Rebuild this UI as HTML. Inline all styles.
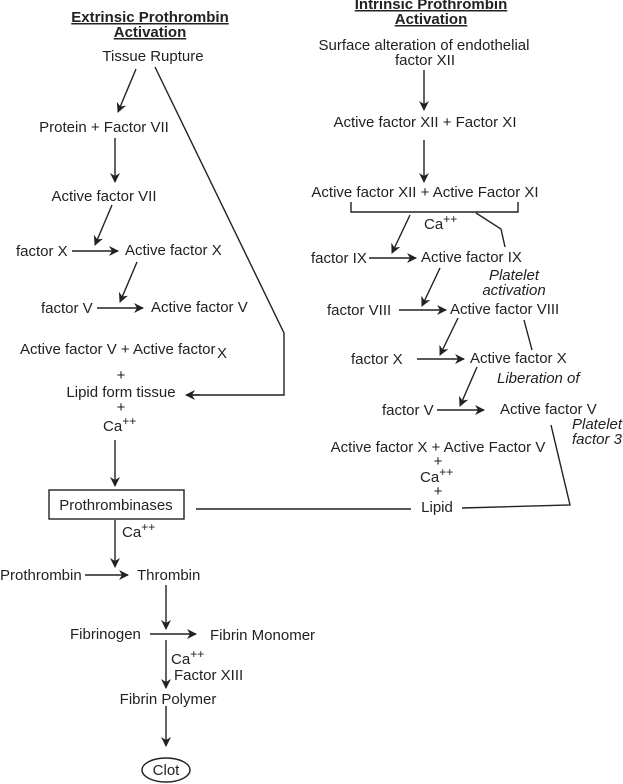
<!DOCTYPE html>
<html><head><meta charset="utf-8"><style>
html,body{margin:0;padding:0;background:#fff;}
svg{display:block;}
text{font-family:"Liberation Sans",Arial,sans-serif;font-size:15px;fill:#222;}
.b{font-weight:bold;text-decoration:underline;}
.i{font-style:italic;}
line,polyline,path{stroke:#222;stroke-width:1.4;fill:none;}
</style></head><body>
<svg width="623" height="784" viewBox="0 0 623 784" xmlns="http://www.w3.org/2000/svg">
<defs>
<marker id="a" viewBox="0 0 10 10" refX="9" refY="5" markerWidth="10" markerHeight="10" orient="auto-start-reverse" markerUnits="userSpaceOnUse">
<path d="M0,0 L10,5 L0,10 L3,5 Z" style="fill:#222;stroke:none"/>
</marker>
</defs>
<!-- Left column -->
<text x="150" y="22" text-anchor="middle" class="b">Extrinsic Prothrombin</text>
<text x="150" y="37" text-anchor="middle" class="b">Activation</text>
<text x="153" y="61" text-anchor="middle">Tissue Rupture</text>
<line x1="136" y1="69" x2="118" y2="112" marker-end="url(#a)"/>
<text x="104" y="132" text-anchor="middle">Protein + Factor VII</text>
<line x1="115" y1="138" x2="115" y2="182" marker-end="url(#a)"/>
<text x="104" y="201" text-anchor="middle">Active factor VII</text>
<line x1="112" y1="205" x2="95" y2="245" marker-end="url(#a)"/>
<text x="16" y="256">factor X</text>
<line x1="72" y1="251" x2="118" y2="251" marker-end="url(#a)"/>
<text x="125" y="255">Active factor X</text>
<line x1="137" y1="262" x2="120" y2="302" marker-end="url(#a)"/>
<text x="41" y="313">factor V</text>
<line x1="97" y1="308" x2="143" y2="308" marker-end="url(#a)"/>
<text x="151" y="312">Active factor V</text>
<text x="20" y="354">Active factor V + Active factor</text>
<text x="217" y="358">X</text>
<text x="121" y="380" text-anchor="middle">+</text>
<text x="121" y="397" text-anchor="middle">Lipid form tissue</text>
<polyline points="155,67 284,333 284,395 188,395"/>
<line x1="200" y1="395" x2="186" y2="395" marker-end="url(#a)"/>
<text x="121" y="412" text-anchor="middle">+</text>
<text x="103" y="431">Ca<tspan dy="-6" font-size="12">++</tspan></text>
<line x1="115" y1="440" x2="115" y2="486" marker-end="url(#a)"/>
<rect x="49" y="490" width="135" height="29" style="fill:none;stroke:#222;stroke-width:1.4"/>
<text x="116" y="510" text-anchor="middle">Prothrombinases</text>
<line x1="196" y1="509" x2="411" y2="509"/>
<text x="122" y="537">Ca<tspan dy="-6" font-size="12">++</tspan></text>
<line x1="115" y1="520" x2="115" y2="567" marker-end="url(#a)"/>
<text x="0" y="580">Prothrombin</text>
<line x1="85" y1="575" x2="128" y2="575" marker-end="url(#a)"/>
<text x="137" y="580">Thrombin</text>
<line x1="166" y1="585" x2="166" y2="629" marker-end="url(#a)"/>
<text x="70" y="639">Fibrinogen</text>
<line x1="150" y1="634" x2="196" y2="634" marker-end="url(#a)"/>
<text x="210" y="640">Fibrin Monomer</text>
<line x1="166" y1="640" x2="166" y2="688" marker-end="url(#a)"/>
<text x="171" y="664">Ca<tspan dy="-6" font-size="12">++</tspan></text>
<text x="174" y="680">Factor XIII</text>
<text x="168" y="704" text-anchor="middle">Fibrin Polymer</text>
<line x1="166" y1="706" x2="166" y2="746" marker-end="url(#a)"/>
<ellipse cx="166" cy="770" rx="24" ry="12" style="fill:none;stroke:#222;stroke-width:1.4"/>
<text x="166" y="775" text-anchor="middle">Clot</text>
<!-- Right column -->
<text x="431" y="9" text-anchor="middle" class="b">Intrinsic Prothrombin</text>
<text x="431" y="24" text-anchor="middle" class="b">Activation</text>
<text x="424" y="50" text-anchor="middle">Surface alteration of endothelial</text>
<text x="425" y="65" text-anchor="middle">factor XII</text>
<line x1="424" y1="70" x2="424" y2="110" marker-end="url(#a)"/>
<text x="425" y="127" text-anchor="middle">Active factor XII + Factor XI</text>
<line x1="424" y1="140" x2="424" y2="182" marker-end="url(#a)"/>
<text x="425" y="197" text-anchor="middle">Active factor XII + Active Factor XI</text>
<polyline points="351,202 351,212 518,212 518,202"/>
<text x="424" y="229">Ca<tspan dy="-6" font-size="12">++</tspan></text>
<line x1="410" y1="215" x2="392" y2="253" marker-end="url(#a)"/>
<polyline points="476,213 501,229 505,247"/>
<text x="311" y="263">factor IX</text>
<line x1="369" y1="258" x2="416" y2="258" marker-end="url(#a)"/>
<text x="421" y="262">Active factor IX</text>
<text x="514" y="280" text-anchor="middle" class="i">Platelet</text>
<text x="514" y="295" text-anchor="middle" class="i">activation</text>
<line x1="440" y1="268" x2="422" y2="306" marker-end="url(#a)"/>
<text x="327" y="315">factor VIII</text>
<line x1="399" y1="310" x2="446" y2="310" marker-end="url(#a)"/>
<text x="450" y="314">Active factor VIII</text>
<line x1="524" y1="320" x2="532" y2="350"/>
<line x1="458" y1="318" x2="440" y2="355" marker-end="url(#a)"/>
<text x="351" y="364">factor X</text>
<line x1="417" y1="359" x2="464" y2="359" marker-end="url(#a)"/>
<text x="470" y="363">Active factor X</text>
<text x="497" y="383" class="i">Liberation of</text>
<line x1="477" y1="367" x2="460" y2="406" marker-end="url(#a)"/>
<text x="382" y="415">factor V</text>
<line x1="437" y1="410" x2="484" y2="410" marker-end="url(#a)"/>
<text x="500" y="414">Active factor V</text>
<text x="572" y="429" class="i">Platelet</text>
<text x="572" y="444" class="i">factor 3</text>
<text x="438" y="452" text-anchor="middle">Active factor X + Active Factor V</text>
<text x="438" y="466" text-anchor="middle">+</text>
<text x="420" y="482">Ca<tspan dy="-6" font-size="12">++</tspan></text>
<text x="438" y="496" text-anchor="middle">+</text>
<text x="437" y="512" text-anchor="middle">Lipid</text>
<polyline points="462,508 570,505 551,425"/>
</svg>
</body></html>
